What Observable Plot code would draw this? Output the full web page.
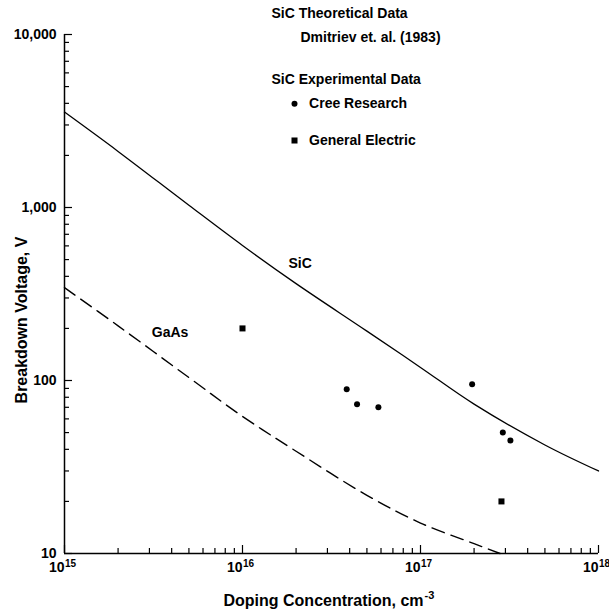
<!DOCTYPE html>
<html>
<head>
<meta charset="utf-8">
<script src="https://cdn.jsdelivr.net/npm/d3@7"></script>
<script src="https://cdn.jsdelivr.net/npm/@observablehq/plot@0.6"></script>
<style>
  body { margin: 0; background: #fff; }
</style>
</head>
<body>
<div id="chart"></div>
<script>
// SiC theoretical breakdown voltage (Dmitriev et al., 1983) vs doping, cm^-3
const sicN = [1e15, 2e15, 5e15, 1e16, 2e16, 5e16, 1e17, 2e17, 5e17, 1e18];
const sicV = [3560, 2110, 1030, 603, 363, 193, 119, 73, 42.4, 30];

// GaAs theoretical curve (dashed)
const gaasN = [1e15, 2e15, 5e15, 1e16, 2e16, 5e16, 1e17, 2e17, 2.8e17];
const gaasV = [344, 207, 104, 62, 39, 21.7, 15, 11.4, 10];

// Experimental SiC devices
const creeN = [3.85e16, 4.4e16, 5.8e16, 1.95e17, 2.9e17, 3.2e17];
const creeV = [89, 73, 70, 95, 50, 45];
const geN = [1e16, 2.85e17];
const geV = [200, 20];

// Axis ticks and labels
const xMajor = [1e15, 1e16, 1e17, 1e18];
const xExponents = ["15", "16", "17", "18"];
const yMajor = [10, 100, 1000, 10000];
const yLabels = ["10", "100", "1,000", "10,000"];

const FONT = "'Liberation Sans', Arial, Helvetica, sans-serif";
const W = 609, H = 613;
const M = {top: 34, right: 11, bottom: 60, left: 64};
const frameW = W - M.left - M.right;
const frameH = H - M.top - M.bottom;

const xMinor = xMajor.slice(0, -1).flatMap(d => d3.range(2, 10).map(k => k * d));
const yMinor = yMajor.slice(0, -1).flatMap(d => d3.range(2, 10).map(k => k * d));

const sic = sicN.map((n, i) => ({N: n, V: sicV[i]}));
const gaas = gaasN.map((n, i) => ({N: n, V: gaasV[i]}));
const cree = creeN.map((n, i) => ({N: n, V: creeV[i]}));
const ge = geN.map((n, i) => ({N: n, V: geV[i]}));

const txt = {fill: "black", fontWeight: "bold", fontSize: 14, lineAnchor: "middle"};

const chart = Plot.plot({
  width: W,
  height: H,
  marginTop: M.top,
  marginRight: M.right,
  marginBottom: M.bottom,
  marginLeft: M.left,
  x: {type: "log", domain: [1e15, 1e18], axis: null},
  y: {type: "log", domain: [10, 10000], axis: null},
  style: {fontFamily: FONT, background: "white", color: "black"},
  marks: [
    // axis lines
    Plot.ruleX([xMajor[0]], {stroke: "black", strokeWidth: 1.5}),
    Plot.ruleY([yMajor[0]], {stroke: "black", strokeWidth: 1.5}),
    // inward ticks
    Plot.ruleX(xMinor, {x: d => d, insetTop: frameH - 5, stroke: "black", strokeWidth: 1.2}),
    Plot.ruleX(xMajor, {x: d => d, insetTop: frameH - 8, stroke: "black", strokeWidth: 1.2}),
    Plot.ruleY(yMinor, {y: d => d, insetRight: frameW - 5, stroke: "black", strokeWidth: 1.2}),
    Plot.ruleY(yMajor, {y: d => d, insetRight: frameW - 8, stroke: "black", strokeWidth: 1.2}),
    // y tick labels
    Plot.text(yMajor, {y: d => d, text: (d, i) => yLabels[i], frameAnchor: "left", dx: -8,
      textAnchor: "end", ...txt}),
    // x tick labels: 10 with superscript exponent
    Plot.text(xMajor, {x: d => d, text: () => "10", frameAnchor: "bottom", dy: 14,
      textAnchor: "end", dx: 0, ...txt}),
    Plot.text(xMajor, {x: d => d, text: (d, i) => xExponents[i], frameAnchor: "bottom", dy: 10,
      textAnchor: "start", dx: 0.5, ...txt, fontSize: 10}),
    // axis titles
    Plot.text(["Breakdown Voltage, V"], {text: d => d, frameAnchor: "left", rotate: -90,
      dx: -43, dy: 26, ...txt, textAnchor: "middle", fontSize: 16}),
    Plot.text(["Doping Concentration, cm"], {text: d => d, frameAnchor: "bottom", dy: 47,
      dx: 92, textAnchor: "end", ...txt, fontSize: 16}),
    Plot.text(["-3"], {text: d => d, frameAnchor: "bottom", dy: 42,
      dx: 93, textAnchor: "start", ...txt, fontSize: 11}),
    // curves
    Plot.line(sic, {x: "N", y: "V", stroke: "black", strokeWidth: 1.3, curve: "catmull-rom"}),
    Plot.line(gaas, {x: "N", y: "V", stroke: "black", strokeWidth: 1.4,
      strokeDasharray: "13,7", curve: "catmull-rom"}),
    // curve labels
    Plot.text([sic[4]], {x: "N", y: "V", text: () => "SiC", dx: 4, dy: -20, ...txt}),
    Plot.text([gaas[1]], {x: "N", y: "V", text: () => "GaAs", dx: 52, dy: 7, ...txt}),
    // experimental points
    Plot.dot(cree, {x: "N", y: "V", r: 3, fill: "black", symbol: "circle"}),
    Plot.dot(ge, {x: "N", y: "V", r: 3.4, fill: "black", symbol: "square"}),
    // legend
    Plot.text(["SiC Theoretical Data"], {text: d => d, frameAnchor: "top-left", dx: 207, dy: -20.7,
      textAnchor: "start", ...txt}),
    Plot.text(["Dmitriev et. al. (1983)"], {text: d => d, frameAnchor: "top-left", dx: 236, dy: 2.7,
      textAnchor: "start", ...txt}),
    Plot.text(["SiC Experimental Data"], {text: d => d, frameAnchor: "top-left", dx: 207, dy: 45,
      textAnchor: "start", ...txt}),
    Plot.dot([0], {frameAnchor: "top-left", dx: 230, dy: 69.3, r: 3, fill: "black", symbol: "circle"}),
    Plot.text(["Cree Research"], {text: d => d, frameAnchor: "top-left", dx: 244.6, dy: 69.3,
      textAnchor: "start", ...txt}),
    Plot.dot([0], {frameAnchor: "top-left", dx: 230, dy: 106, r: 3.4, fill: "black", symbol: "square"}),
    Plot.text(["General Electric"], {text: d => d, frameAnchor: "top-left", dx: 244.6, dy: 106,
      textAnchor: "start", ...txt})
  ]
});

document.getElementById("chart").append(chart);
</script>
</body>
</html>
